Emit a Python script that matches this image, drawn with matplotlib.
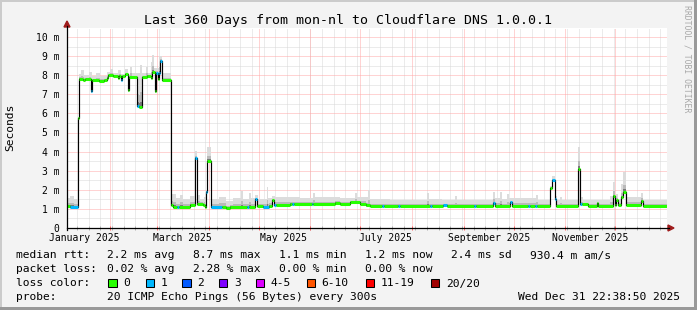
import matplotlib
matplotlib.use("Agg")
import matplotlib.pyplot as plt
import numpy as np
from matplotlib.patches import Rectangle, Polygon
from matplotlib.lines import Line2D
from datetime import datetime, timedelta

# ---------------- data ----------------
start_time = datetime(2025, 1, 5, 22, 38, 50)
span_days = 360

# median rtt (ms) as a step function: start day, value, loss bucket
med_day = [0, 1.8, 6.6, 7.2, 9.6, 10.8, 14.4, 15.0, 19.2, 22.2,
           24.0, 24.6, 27.6, 30.6, 31.2, 32.4, 33.0, 34.8, 36.6, 37.2,
           42.0, 43.2, 45.0, 48.0, 50.4, 51.0, 52.8, 53.4, 54.6, 55.2,
           55.8, 57.0, 62.4, 63.6, 66.0, 67.2, 73.8, 76.8, 78.0, 81.6,
           82.8, 83.4, 84.0, 86.4, 93.0, 95.4, 97.8, 108.0, 109.2, 112.8,
           114.0, 117.6, 121.2, 123.0, 124.2, 125.4, 133.8, 135.0, 136.2, 147.0,
           147.6, 160.8, 163.8, 169.8, 175.8, 179.4, 181.8, 189.0, 190.2, 198.6,
           199.8, 217.8, 219.0, 225.6, 228.0, 244.2, 245.4, 255.6, 256.8, 265.8,
           267.0, 276.6, 277.8, 280.8, 282.0, 289.8, 291.0, 292.8, 293.4, 306.6,
           307.8, 309.0, 312.6, 318.0, 318.6, 327.6, 328.8, 329.4, 330.6, 332.4,
           333.6, 335.4, 344.4, 345.6]
med_val = [1.15, 1.12, 5.75, 7.8, 7.75, 7.8, 7.15, 7.75, 7.7, 7.75,
           7.85, 8.0, 7.95, 7.85, 7.95, 7.75, 7.95, 8.05, 7.2, 7.9,
           6.4, 6.35, 7.9, 7.95, 7.85, 8.15, 7.15, 8.1, 7.8, 8.1,
           8.75, 7.75, 1.2, 1.12, 1.1, 1.12, 1.2, 3.65, 1.25, 1.2,
           1.1, 1.9, 3.5, 1.12, 1.12, 1.05, 1.12, 1.12, 1.12, 1.5,
           1.15, 1.12, 1.15, 1.45, 1.2, 1.2, 1.25, 1.25, 1.25, 1.25,
           1.25, 1.3, 1.28, 1.35, 1.28, 1.18, 1.15, 1.15, 1.15, 1.15,
           1.15, 1.15, 1.15, 1.18, 1.15, 1.15, 1.15, 1.3, 1.15, 1.35,
           1.15, 1.15, 1.15, 1.15, 1.15, 2.1, 2.5, 1.5, 1.15, 3.1,
           1.25, 1.25, 1.15, 1.3, 1.15, 1.65, 1.2, 1.45, 1.2, 1.6,
           1.9, 1.2, 1.4, 1.15]
med_loss = [0, 1, 0, 0, 0, 0, 1, 0, 0, 0,
            0, 0, 0, 0, 0, 1, 0, 0, 0, 0,
            1, 0, 0, 0, 0, 0, 0, 1, 0, 1,
            1, 0, 0, 0, 1, 0, 0, 1, 0, 0,
            0, 1, 0, 1, 0, 0, 0, 1, 0, 1,
            0, 1, 0, 0, 1, 0, 0, 1, 0, 1,
            0, 0, 0, 0, 0, 0, 0, 1, 0, 1,
            0, 1, 0, 1, 0, 1, 0, 1, 0, 1,
            0, 1, 0, 1, 0, 0, 1, 1, 0, 0,
            1, 0, 0, 0, 0, 0, 0, 0, 0, 0,
            0, 0, 0, 0]

# smoke (spread of the 20 pings): start day, max value (ms)
smoke_day = [0, 1.8, 4.2, 6.6, 7.2, 8.4, 10.2, 13.2, 15.0, 17.4,
             19.8, 24.0, 25.8, 27.6, 30.6, 32.4, 34.8, 36.6, 37.8, 39.0,
             43.8, 45.0, 47.4, 48.6, 50.4, 51.0, 52.2, 54.6, 55.2, 57.0,
             62.4, 65.4, 67.8, 69.6, 73.8, 76.8, 78.0, 79.8, 82.2, 83.4,
             84.0, 86.4, 91.2, 95.4, 99.6, 104.4, 105.6, 109.2, 110.4, 112.8,
             114.6, 120.0, 120.6, 123.0, 124.8, 139.8, 147.6, 148.8, 157.8, 163.8,
             172.8, 174.0, 180.6, 181.8, 193.8, 216.0, 217.2, 225.0, 232.8, 234.0,
             255.6, 256.8, 259.8, 261.0, 264.0, 265.2, 281.4, 282.6, 289.8, 291.0,
             292.8, 294.0, 295.8, 297.0, 306.6, 307.8, 309.6, 325.8, 327.6, 328.8,
             329.4, 330.6, 332.4, 333.6, 335.4, 344.4, 345.6]
smoke_top = [1.55, 1.65, 1.5, 5.8, 8.05, 8.25, 8.0, 8.15, 7.95, 8.1,
             7.95, 8.15, 8.3, 8.1, 8.25, 8.05, 8.3, 8.0, 8.45, 8.1,
             8.55, 8.1, 8.45, 8.1, 8.7, 9.05, 8.4, 8.4, 9.0, 8.1,
             1.8, 1.55, 1.75, 1.5, 1.7, 4.05, 1.75, 1.5, 1.6, 2.0,
             4.25, 1.5, 1.6, 1.4, 1.55, 1.95, 1.5, 1.85, 1.55, 1.75,
             1.5, 2.15, 1.55, 1.7, 1.6, 1.55, 1.85, 1.6, 1.6, 1.55,
             1.85, 1.6, 2.0, 1.5, 1.45, 1.85, 1.5, 1.45, 1.65, 1.45,
             1.9, 1.55, 1.9, 1.5, 1.8, 1.55, 1.75, 1.45, 2.2, 2.7,
             1.7, 1.45, 1.6, 1.45, 4.25, 1.6, 1.45, 1.7, 2.4, 1.6,
             1.8, 1.5, 2.3, 2.95, 1.6, 1.85, 1.45]

y_ticks = [0, 1, 2, 3, 4, 5, 6, 7, 8, 9, 10]
y_tick_labels = ["0", "1 m", "2 m", "3 m", "4 m", "5 m", "6 m", "7 m", "8 m", "9 m", "10 m"]
x_label_months = [(2025, 1, "January 2025"), (2025, 3, "March 2025"), (2025, 5, "May 2025"),
                  (2025, 7, "July 2025"), (2025, 9, "September 2025"), (2025, 11, "November 2025")]

loss_colors = ["#26ff00", "#00b8ff", "#0059ff", "#7e00ff", "#dd00ff", "#ff5500", "#ff0000", "#a10000"]
loss_labels = ["0", "1", "2", "3", "4-5", "6-10", "11-19", "20/20"]

title = "Last 360 Days from mon-nl to Cloudflare DNS 1.0.0.1"
stat_rows = [
    ["median rtt:", "2.2 ms avg", "8.7 ms max", "1.1 ms min", "1.2 ms now", "2.4 ms sd", "930.4 m am/s"],
    ["packet loss:", "0.02 % avg", "2.28 % max", "0.00 % min", "0.00 % now"],
]
probe_text = "20 ICMP Echo Pings (56 Bytes) every 300s"
date_text = "Wed Dec 31 22:38:50 2025"

assert len(med_day) == len(med_val) == len(med_loss)
assert len(smoke_day) == len(smoke_top)

# ---------------- figure ----------------
W, H = 697, 310
MONO = "DejaVu Sans Mono"
plt.rcParams["font.family"] = MONO

fig = plt.figure(figsize=(W / 100, H / 100), dpi=100)
fig.patch.set_facecolor("#f3f3f3")

def fx(px):
    return px / W

def fy(py):
    return 1 - py / H

# plot area: x 67..667, y 28..228 (0 ms at 228, 19.1 px / ms)
L, R, T, B = 67, 667, 28, 228
ppm = 19.1
ax = fig.add_axes([fx(L), fy(B), (R - L) / W, (B - T) / H])
ax.set_facecolor("white")
ax.set_xlim(0, span_days)
ax.set_ylim(0, (B - T) / ppm)
for s in ax.spines.values():
    s.set_visible(False)

def day_of(dt):
    return (dt - start_time).total_seconds() / 86400.0

grid_kw = dict(lw=0.72, dashes=(1, 1))
# grid
minor_h = np.arange(0.5, 10.5, 1.0)
for v in minor_h:
    ax.axhline(v, color="#d8d8d8", zorder=1, **grid_kw)
week_days = []
d = datetime(2025, 1, 12)
while day_of(d) < span_days:
    week_days.append(day_of(d))
    d += timedelta(days=7)
for wd in week_days:
    ax.axvline(wd, color="#d8d8d8", zorder=1, **grid_kw)
for v in range(1, 11):
    ax.axhline(v, color="#ffa8a8", zorder=1.5, **grid_kw)
month_days = [day_of(datetime(2025, m, 1)) for m in range(2, 13)]
for md in month_days:
    ax.axvline(md, color="#ffa8a8", zorder=1.5, **grid_kw)

# small axis tick marks
tk = 2 / ppm
ax.vlines(week_days, -tk, tk, color="#b0b0b0", lw=0.72, clip_on=False, zorder=5)
ax.vlines(month_days, -tk, tk, color="#ff6060", lw=0.72, clip_on=False, zorder=5)

# common step grid
xs = np.array(sorted(set(med_day) | set(smoke_day)), dtype=float)
mi = np.searchsorted(np.array(med_day), xs, side="right") - 1
si = np.searchsorted(np.array(smoke_day), xs, side="right") - 1
med = np.array(med_val)[mi]
top = np.maximum(np.array(smoke_top)[si], med + 0.05)
lo = med - 0.06
xs_e = np.append(xs, span_days)
med_e = np.append(med, med[-1])
top_e = np.append(top, top[-1])
lo_e = np.append(lo, lo[-1])

ax.fill_between(xs_e, lo_e, top_e, step="post", color="#dcdcdc", lw=0, zorder=2)
ax.fill_between(xs_e, lo_e, med_e + (top_e - med_e) * 0.35, step="post", color="#bababa", lw=0, zorder=2.1)
ax.fill_between(xs_e, med_e - 0.04, med_e + (top_e - med_e) * 0.12, step="post", color="#7a7a7a", lw=0, zorder=2.2)

# median: black step line, coloured horizontal segments
md_e = np.append(np.array(med_day, dtype=float), span_days)
mv_e = np.append(np.array(med_val), med_val[-1])
ax.step(md_e, mv_e, where="post", color="black", lw=0.85, zorder=3)
segs_c = [loss_colors[l] for l in med_loss]
lc = ax.hlines(med_val, md_e[:-1], md_e[1:], colors=segs_c, lw=2.2, zorder=4)
lc.set_capstyle("butt")

# ticks / labels
ax.set_yticks(y_ticks)
ax.set_yticklabels(y_tick_labels)
ax.tick_params(axis="y", length=0, pad=5.4, labelsize=7, colors="black")
xt = [day_of(datetime(y, m, 16)) for (y, m, _) in x_label_months]
ax.set_xticks(xt)
ax.set_xticklabels([lab for (_, _, lab) in x_label_months])
ax.tick_params(axis="x", length=0, pad=3.6, labelsize=7, colors="black")
for t in ax.get_xticklabels() + ax.get_yticklabels():
    t.set_fontfamily(MONO)

# axis lines and arrows (figure pixel coords)
fig.add_artist(Line2D([fx(L), fx(669)], [fy(B), fy(B)], color="black", lw=0.9, transform=fig.transFigure))
fig.add_artist(Line2D([fx(L), fx(L)], [fy(B + 2), fy(26)], color="black", lw=0.9, transform=fig.transFigure))
arrow_c = "#a01c1c"
fig.add_artist(Polygon([(fx(668), fy(B - 3)), (fx(668), fy(B + 3)), (fx(674), fy(B))], closed=True,
                       color=arrow_c, transform=fig.transFigure))
fig.add_artist(Polygon([(fx(L - 3), fy(27)), (fx(L + 3), fy(27)), (fx(L), fy(21))], closed=True,
                       color=arrow_c, transform=fig.transFigure))

# title and labels
fig.text(fx(347.5), fy(24), title, ha="center", va="baseline", fontsize=9.55, family=MONO)
fig.text(fx(10.5), fy(127.5), "Seconds", rotation=90, ha="center", va="center", fontsize=8.1, family=MONO)
fig.text(fx(687.5), fy(59), "RRDTOOL / TOBI OETIKER", rotation=270, ha="center", va="center",
         fontsize=5.9, family=MONO, color="#a8a8a8")

# legend / statistics rows
col_x = [16, 107.3, 193.3, 279.3, 365, 450.7, 530]
base_y = [258.5, 272.5, 286.5, 300.5]
for r, row in enumerate(stat_rows):
    for c, txt in enumerate(row):
        fig.text(fx(col_x[c]), fy(base_y[r]), txt, ha="left", va="baseline", fontsize=8.1, family=MONO)

fig.text(fx(16), fy(base_y[2]), "loss color:", ha="left", va="baseline", fontsize=8.1, family=MONO)
box_x = [108.3, 145.7, 182.3, 219, 255.7, 306.7, 365.7, 430.7]
for bx, col, lab in zip(box_x, loss_colors, loss_labels):
    fig.add_artist(Rectangle((fx(bx), fy(287)), 8.3 / W, 8.5 / H, facecolor=col, edgecolor="black",
                             lw=0.75, transform=fig.transFigure))
    fig.text(fx(bx + 15), fy(base_y[2]), lab, ha="left", va="baseline", fontsize=8.1, family=MONO)

fig.text(fx(16), fy(base_y[3]), "probe:", ha="left", va="baseline", fontsize=8.1, family=MONO)
fig.text(fx(107.3), fy(base_y[3]), probe_text, ha="left", va="baseline", fontsize=8.1, family=MONO)
fig.text(fx(680), fy(base_y[3]), date_text, ha="right", va="baseline", fontsize=8.1, family=MONO)

# 3D frame
fig.add_artist(Rectangle((0, fy(2)), 1, 2 / H, facecolor="#cbcbcb", lw=0, transform=fig.transFigure))
fig.add_artist(Rectangle((0, 0), 2 / W, 1, facecolor="#cbcbcb", lw=0, transform=fig.transFigure))
fig.add_artist(Rectangle((0, 0), 1, 3 / H, facecolor="#999999", lw=0, transform=fig.transFigure))
fig.add_artist(Rectangle((fx(694), 0), 3 / W, 1, facecolor="#999999", lw=0, transform=fig.transFigure))

fig.savefig("out.png", dpi=100, facecolor=fig.get_facecolor())
